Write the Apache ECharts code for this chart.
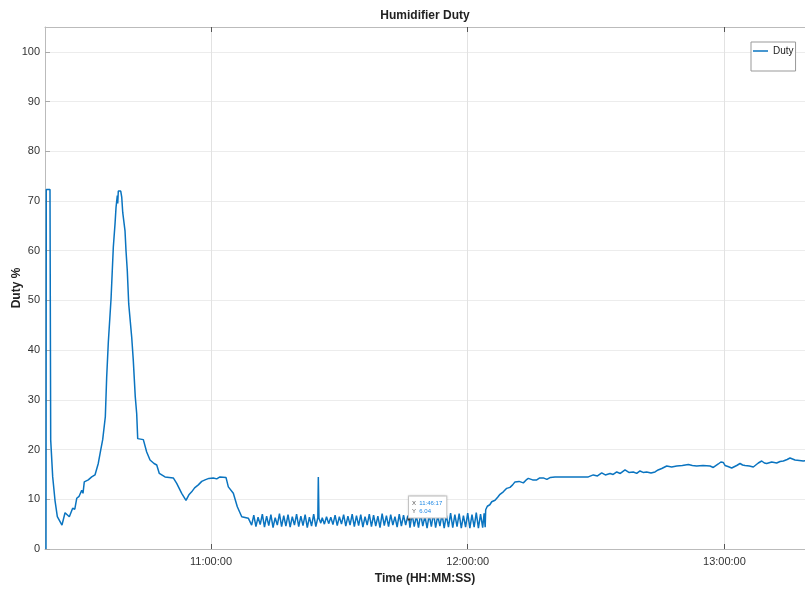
<!DOCTYPE html>
<html><head><meta charset="utf-8">
<script src="https://cdn.jsdelivr.net/npm/echarts@6/dist/echarts.min.js"></script>
<style>html,body{margin:0;padding:0;background:#fff}#c{width:805px;height:590px}</style>
</head><body><div id="c"></div>
<script>
const titleText = 'Humidifier Duty';
const seriesName = 'Duty';
const xAxisName = 'Time (HH:MM:SS)';
const yAxisName = 'Duty %';
const xRange = ['10:21:12', '13:18:50'];
const xTickTimes = ['11:00:00', '12:00:00', '13:00:00'];
const yRange = [0, 105];
const yStep = 10;

const warmupTimes = ['10:21:26','10:21:30','10:22:22','10:22:32','10:23:00','10:23:32','10:24:05','10:24:33','10:25:10','10:25:53','10:26:20','10:26:53','10:27:40','10:28:10','10:28:37','10:29:10','10:29:47','10:30:05','10:30:23','10:31:19','10:32:07','10:32:53','10:33:39','10:34:13','10:34:41','10:34:59','10:35:18','10:35:37','10:36:00','10:36:24','10:36:38','10:36:56','10:37:10','10:37:34','10:37:48','10:38:06','10:38:12','10:38:20','10:38:54','10:39:08','10:39:22','10:39:54','10:40:08','10:40:26','10:40:46','10:41:04','10:41:28','10:41:50','10:42:18','10:42:38','10:42:52','10:44:11','10:44:58','10:45:45','10:46:41','10:47:19','10:47:55','10:49:15','10:51:11','10:51:59','10:53:09','10:54:09','10:54:50','10:55:29','10:56:10','10:57:02','10:57:50','10:58:36','10:59:30','11:00:32','11:01:20','11:02:06','11:03:30','11:04:03','11:05:13','11:06:09','11:07:11','11:08:43'];
const warmupDuty = [0,72.3,72.3,21.9,14.5,9.8,6.5,6.2,4.8,7.3,7.0,6.5,8.2,8.0,10.2,10.6,11.8,11.2,13.5,13.9,14.5,14.9,17.2,19.9,22.0,22.4,26.6,34.6,41.6,41.8,50.3,50.6,60.7,65.4,68.7,71.1,69.5,72.0,72.0,70.8,67.7,64.0,60.0,56.0,49.3,49.6,42.6,38.0,30.6,27.2,22.2,22.0,19.5,17.9,17.2,16.9,15.2,14.5,14.3,13.2,11.2,9.8,10.9,11.5,12.3,12.9,13.6,13.9,14.2,14.3,14.1,14.5,14.4,12.5,11.2,8.5,6.5,6.2];

const cycleTimes = ['11:09:07','11:09:30','11:10:00','11:10:30','11:11:00','11:11:30','11:12:00','11:12:30','11:13:00','11:13:30','11:14:00','11:14:30','11:15:00','11:15:30','11:16:00','11:16:30','11:17:00','11:17:30','11:18:00','11:18:30','11:19:00','11:19:30','11:20:00','11:20:30','11:21:00','11:21:30','11:22:00','11:22:30','11:23:00','11:23:30','11:24:00','11:24:30','11:24:58','11:25:05','11:25:14','11:25:40','11:26:00','11:26:30','11:27:00','11:27:30','11:28:00','11:28:30','11:29:00','11:29:30','11:30:00','11:30:30','11:31:00','11:31:30','11:32:00','11:32:30','11:33:00','11:33:30','11:34:00','11:34:30','11:35:00','11:35:30','11:36:00','11:36:30','11:37:00','11:37:30','11:38:00','11:38:30','11:39:00','11:39:30','11:40:00','11:40:30','11:41:00','11:41:30','11:42:00','11:42:30','11:43:00','11:43:30','11:44:00','11:44:30','11:45:00','11:45:30','11:46:00','11:46:17','11:46:30','11:47:00','11:47:30','11:48:00','11:48:30','11:49:00','11:49:30','11:50:00','11:50:30','11:51:00','11:51:30','11:52:00','11:52:30','11:53:00','11:53:30','11:54:00','11:54:30','11:55:00','11:55:30','11:56:00','11:56:30','11:57:00','11:57:30','11:58:00','11:58:30','11:59:00','11:59:30','12:00:00','12:00:30','12:01:00','12:01:30','12:02:00','12:02:30','12:03:00','12:03:30','12:03:50','12:04:05'];
const cycleDuty = [6.2,4.8,6.8,4.5,6.4,4.9,7.0,4.4,6.6,4.7,6.9,4.3,6.3,4.8,7.1,4.5,6.7,4.6,6.9,4.4,6.5,4.8,7.0,4.5,6.6,4.7,6.9,4.3,6.4,4.6,7.0,4.5,6.3,14.5,6.2,5.2,6.3,5.0,6.5,5.1,6.4,4.9,6.8,4.7,6.5,5.0,6.9,4.6,6.6,4.8,7.0,4.5,6.7,4.7,6.9,4.4,6.5,4.8,7.0,4.5,6.8,4.6,6.6,4.3,7.1,4.7,6.7,4.5,6.9,4.8,6.5,4.4,7.0,4.6,6.8,4.8,6.7,6.04,4.3,7.0,4.5,6.7,4.3,7.1,4.6,6.6,4.2,6.9,4.5,7.2,4.3,6.7,4.6,7.0,4.2,6.8,4.4,7.2,4.3,6.9,4.5,7.1,4.2,6.7,4.4,7.2,4.2,6.9,4.4,7.3,4.2,7.0,4.3,7.2,4.4];

const settleTimes = ['12:04:12','12:04:35','12:05:10','12:05:37','12:06:23','12:07:00','12:07:33','12:08:19','12:08:45','12:09:07','12:09:53','12:10:30','12:11:03','12:12:00','12:13:00','12:13:40','12:14:10','12:15:10','12:16:08','12:16:50','12:17:40','12:18:30','12:19:20','12:20:24','12:28:11','12:29:21','12:30:20','12:31:19','12:32:10','12:33:16','12:34:00','12:34:50','12:35:40','12:36:46','12:37:40','12:38:42','12:39:30','12:40:16','12:41:00','12:41:50','12:42:50','12:43:47','12:44:30','12:45:21','12:46:31','12:47:40','12:48:51','12:50:10','12:51:34','12:52:30','12:53:31','12:55:00','12:56:38','12:57:24','12:58:34','12:59:10','12:59:45','13:00:08','13:00:50','13:01:42','13:02:52','13:03:39','13:04:15','13:04:49','13:05:50','13:06:45','13:07:55','13:08:43','13:09:20','13:09:53','13:11:03','13:12:13','13:13:00','13:13:46','13:14:40','13:15:20','13:16:30','13:17:30','13:18:26','13:19:05'];
const settleDuty = [7.9,8.6,8.9,9.5,9.8,10.4,11.0,11.5,11.3,12.2,12.4,12.9,13.5,13.6,13.3,13.9,14.2,13.9,13.9,14.3,14.3,14.0,14.4,14.5,14.5,14.9,14.7,15.3,14.9,15.2,15.0,15.5,15.2,15.9,15.4,15.5,15.2,15.7,15.4,15.5,15.3,15.5,15.9,16.2,16.7,16.5,16.7,16.8,17.0,16.8,16.7,16.8,16.7,16.4,17.1,17.5,17.4,16.8,16.6,16.3,16.8,17.2,16.9,16.8,16.7,16.5,17.3,17.7,17.3,17.2,17.5,17.3,17.6,17.7,18.0,18.3,17.9,17.8,17.7,17.8];

const tipTime = '11:46:17';
const tipDuty = 6.04;

function toSec(s) { const p = s.split(':').map(Number); return p[0]*3600 + p[1]*60 + p[2]; }
function fmt(v) {
  v = Math.round(v);
  const h = Math.floor(v/3600), m = Math.floor((v%3600)/60), s = v%60;
  const z = n => (n < 10 ? '0' : '') + n;
  return z(h) + ':' + z(m) + ':' + z(s);
}
const allTimes = warmupTimes.concat(cycleTimes, settleTimes);
const allDuty = warmupDuty.concat(cycleDuty, settleDuty);
const seriesData = allTimes.map((t, i) => [toSec(t), allDuty[i]]);
const tickVals = xTickTimes.map(toSec);
const FONT = "'Liberation Sans', Arial, sans-serif";

const chart = echarts.init(document.getElementById('c'), null, {renderer: 'canvas'});
chart.setOption({
  animation: false,
  backgroundColor: '#fff',
  textStyle: {fontFamily: FONT},
  title: {
    text: titleText, left: 425, top: 10, textAlign: 'center', padding: 0,
    textStyle: {fontSize: 12, fontWeight: 'bold', color: '#222', fontFamily: FONT}
  },
  legend: {
    data: [seriesName], left: 751, top: 42, orient: 'vertical',
    padding: [4, 2, 15, 2], backgroundColor: '#fff', borderColor: '#999', borderWidth: 1,
    icon: 'rect', itemWidth: 15, itemHeight: 1.5, itemGap: 0,
    textStyle: {fontSize: 10, color: '#222', fontFamily: FONT}
  },
  grid: {left: 45, right: 0, top: 27, bottom: 41, containLabel: false, outerBoundsMode: 'none'},
  xAxis: [{
    type: 'value', min: toSec(xRange[0]), max: toSec(xRange[1]),
    name: xAxisName, nameLocation: 'middle', nameGap: 24, nameMoveOverlap: false,
    nameTextStyle: {fontSize: 12, fontWeight: 'bold', color: '#222', fontFamily: FONT},
    axisLine: {show: true, onZero: false, lineStyle: {color: '#bbb', width: 1}},
    axisTick: {show: true, inside: true, length: 5, customValues: tickVals, lineStyle: {color: '#555'}},
    axisLabel: {customValues: tickVals, formatter: fmt, fontSize: 11, color: '#333', margin: 7, fontFamily: FONT},
    splitLine: {show: true, lineStyle: {color: '#e2e2e2', width: 1}}
  }, {
    type: 'value', position: 'top', min: toSec(xRange[0]), max: toSec(xRange[1]),
    axisLine: {show: true, onZero: false, lineStyle: {color: '#bbb', width: 1}},
    axisTick: {show: true, inside: true, length: 5, customValues: tickVals, lineStyle: {color: '#555'}},
    axisLabel: {show: false, customValues: tickVals},
    splitLine: {show: false}
  }],
  yAxis: {
    type: 'value', min: yRange[0], max: yRange[1], interval: yStep,
    name: yAxisName, nameLocation: 'middle', nameGap: 22, nameMoveOverlap: false,
    nameTextStyle: {fontSize: 12, fontWeight: 'bold', color: '#222', fontFamily: FONT},
    axisLine: {show: true, lineStyle: {color: '#bbb', width: 1}},
    axisTick: {show: true, inside: true, length: 5, lineStyle: {color: '#aaa'}},
    axisLabel: {fontSize: 11, color: '#333', margin: 5, showMaxLabel: false, fontFamily: FONT},
    splitLine: {show: true, lineStyle: {color: '#ececec', width: 1}}
  },
  series: [{
    name: seriesName, type: 'line', data: seriesData, showSymbol: false,
    lineStyle: {color: '#0a74c0', width: 1.5}, itemStyle: {color: '#0a74c0'},
    clip: true,
    markPoint: {
      silent: true, symbol: 'rect', symbolSize: 3, itemStyle: {color: '#333'},
      data: [{coord: [toSec(tipTime), tipDuty]}],
      label: {
        show: true, position: [1.5, -21],
        formatter: '{k|X} {v|' + tipTime + '}\n{k|Y} {v|' + tipDuty.toFixed(2) + '}',
        backgroundColor: '#fff', borderColor: '#ccc', borderWidth: 1,
        padding: [3, 4, 2, 3], lineHeight: 8,
        shadowColor: 'rgba(0,0,0,0.15)', shadowBlur: 2,
        rich: {
          k: {fontSize: 6, color: '#555', lineHeight: 8, fontFamily: FONT},
          v: {fontSize: 6, color: '#1e88e5', lineHeight: 8, fontFamily: FONT}
        }
      }
    }
  }]
});
</script>
</body></html>
